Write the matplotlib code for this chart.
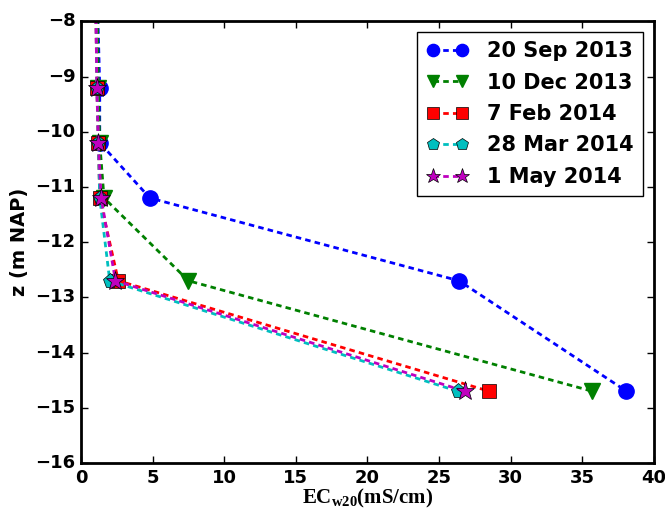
import matplotlib
matplotlib.use("Agg")
import matplotlib.pyplot as plt

# depths (m NAP) and EC values per survey date
z = [-7.2, -9.2, -10.2, -11.2, -12.7, -14.7]
ec_sep2013 = [1.1, 1.3, 1.3, 4.8, 26.4, 38.1]
ec_dec2013 = [1.1, 1.2, 1.3, 1.6, 7.5, 35.7]
ec_feb2014 = [1.0, 1.1, 1.2, 1.3, 2.6, 28.5]
ec_mar2014 = [1.0, 1.1, 1.2, 1.3, 2.0, 26.3]
ec_may2014 = [1.0, 1.1, 1.2, 1.4, 2.4, 26.8]
labels = ["20 Sep 2013", "10 Dec 2013", "7 Feb 2014", "28 Mar 2014", "1 May 2014"]

plt.style.use("classic")
plt.rcParams["mathtext.fontset"] = "custom"
plt.rcParams["mathtext.rm"] = "Liberation Serif:bold"
plt.rcParams["mathtext.bf"] = "Liberation Serif:bold"

fig = plt.figure(figsize=(6.65, 5.13), dpi=100, facecolor="white")
ax = fig.add_axes([0.122, 0.0975, 0.861, 0.861])

styles = [("b", "o", 11), ("g", "v", 11), ("r", "s", 10), ("c", "p", 11), ("m", "*", 14)]
for ec, lab, (c, m, ms) in zip([ec_sep2013, ec_dec2013, ec_feb2014, ec_mar2014, ec_may2014], labels, styles):
    ax.plot(ec, z, linestyle="--", color=c, marker=m, markersize=ms, lw=2,
            dashes=(4, 3), label=lab, markeredgecolor="k" if c in "rcm" else c,
            markeredgewidth=0.5 if c in "rcm" else 1)

ax.set_xlim(0, 40)
ax.set_ylim(-16, -8)
ax.set_xticks(range(0, 45, 5))
ax.set_yticks(range(-16, -7, 1))
for sp in ax.spines.values():
    sp.set_linewidth(2)
ax.tick_params(labelsize=13, width=1, length=5)
for t in ax.get_xticklabels() + ax.get_yticklabels():
    t.set_fontweight("bold")

ax.set_ylabel("z (m NAP)", fontsize=14, fontweight="bold")
ax.set_xlabel(r"EC$_{\mathbf{w20}}$(mS/cm)", fontsize=15, fontweight="bold",
              family="Liberation Serif", labelpad=0)

leg = ax.legend(loc="upper right", numpoints=2, fancybox=False, markerscale=0.8,
                prop={"size": 15, "weight": "bold"}, handlelength=2.0,
                borderpad=0.45, labelspacing=0.55, handletextpad=0.9)
leg.get_frame().set_edgecolor("k")

fig.savefig("out.png", dpi=100)
